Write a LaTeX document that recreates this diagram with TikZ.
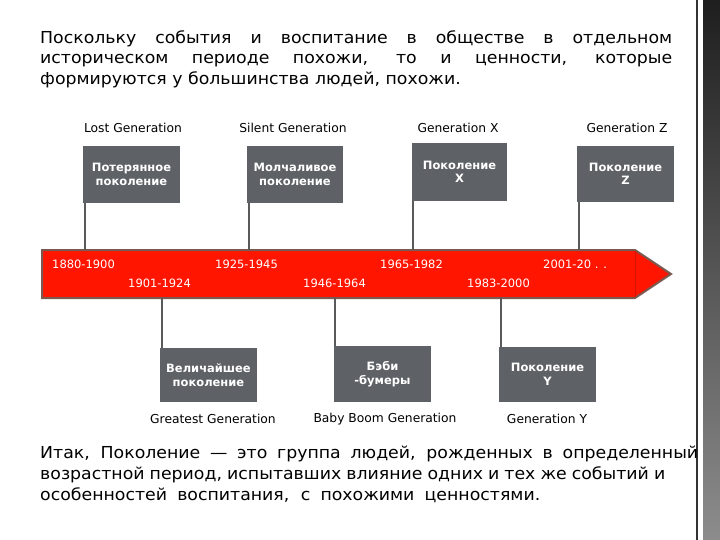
\documentclass[tikz,border=0pt]{standalone}
\usepackage{fontspec}
\setmainfont{DejaVu Sans}
\newfontfamily\widefont{DejaVu Sans}[FakeStretch=1.05]
\definecolor{boxgray}{HTML}{5E6266}
\definecolor{linegray}{HTML}{5A5A5A}
\definecolor{barred}{HTML}{FF1500}
\definecolor{barborder}{HTML}{7A5A50}
\tikzset{
  genbox/.style={fill=boxgray, text=white, font=\fontsize{11.5}{13.5}\selectfont\bfseries, align=center, inner sep=0pt},
  genlabel/.style={font=\fontsize{12.3}{14}\selectfont, text=black, inner sep=0pt},
  yearlabel/.style={font=\fontsize{11.5}{13}\selectfont, text=white, inner sep=0pt, anchor=base west},
  conn/.style={draw=linegray, line width=2pt},
  bodytext/.style={font=\widefont\fontsize{16.5}{20}\selectfont, anchor=base west, inner sep=0pt}
}
\begin{document}
\begin{tikzpicture}[x=1pt,y=-1pt]
\useasboundingbox (0,0) rectangle (720,540);
\fill[white] (0,0) rectangle (720,540);
% right strip
\draw[line width=2pt, draw=black!80] (697,0) -- (697,540);
\shade[top color=black!88, bottom color=black!45] (703,0) rectangle (720,540);

% top paragraph
\node[bodytext] (p1) at (40,44) {\makebox[632pt][s]{Поскольку события и воспитание в обществе в отдельном}};
\node[bodytext] (p2) at (40,64) {\makebox[632pt][s]{историческом периоде похожи, то и ценности, которые}};
\node[bodytext] (p3) at (40,84.5) {формируются у большинства людей, похожи.};

% timeline bar
\draw[fill=barred, draw=barborder, line width=2pt] (42,250) -- (635,250) -- (671,274) -- (635,298) -- (42,298) -- cycle;
\draw[draw=barred!85!black, line width=0.5pt] (635,251) -- (635,297);

% top boxes
\node[genbox, minimum width=97pt, minimum height=57pt] (b1) at (131.5,174.5) {Потерянное\\поколение};
\node[genbox, minimum width=96pt, minimum height=57pt] (b2) at (295,174.5) {Молчаливое\\поколение};
\node[genbox, minimum width=95pt, minimum height=58pt] (b3) at (459.5,172) {Поколение\\X};
\node[genbox, minimum width=97pt, minimum height=56pt] (b4) at (625.5,174) {Поколение\\Z};

\node[genlabel] (l1) at (133,128) {Lost Generation};
\node[genlabel] (l2) at (293,128) {Silent Generation};
\node[genlabel] (l3) at (458,128) {Generation X};
\node[genlabel] (l4) at (627,128) {Generation Z};

% bottom boxes
\node[genbox, minimum width=97pt, minimum height=54pt] (c1) at (208.5,375) {Величайшее\\поколение};
\node[genbox, minimum width=97pt, minimum height=56pt] (c2) at (382.5,374) {Бэби\\-бумеры};
\node[genbox, minimum width=97pt, minimum height=55pt] (c3) at (547.5,374.5) {Поколение\\Y};

\node[genlabel] (m1) at (213,419) {Greatest Generation};
\node[genlabel] (m2) at (385,419) {Baby Boom Generation};
\node[genlabel] (m3) at (547,419) {Generation Y};

% connector anchors on the bar
\coordinate (t1) at (85,250);
\coordinate (t2) at (248.5,250);
\coordinate (t3) at (413,250);
\coordinate (t4) at (578.5,250);
\coordinate (u1) at (161.5,298);
\coordinate (u2) at (335,298);
\coordinate (u3) at (500.5,298);
\draw[conn] (b1.south west -| t1) -- (t1);
\draw[conn] (b2.south west -| t2) -- (t2);
\draw[conn] (b3.south west -| t3) -- (t3);
\draw[conn] (b4.south west -| t4) -- (t4);
\draw[conn] (u1) -- (c1.north west -| u1);
\draw[conn] (u2) -- (c2.north west -| u2);
\draw[conn] (u3) -- (c3.north west -| u3);

% years
\node[yearlabel] (y1) at (52,268) {1880-1900};
\node[yearlabel] (y2) at (215,268) {1925-1945};
\node[yearlabel] (y3) at (380,268) {1965-1982};
\node[yearlabel] (y4) at (543,268) {2001-20 . .};
\node[yearlabel] (y5) at (128,287) {1901-1924};
\node[yearlabel] (y6) at (303,287) {1946-1964};
\node[yearlabel] (y7) at (467,287) {1983-2000};

% bottom paragraph
\node[bodytext] (q1) at (40,458) {\makebox[658pt][s]{Итак, Поколение — это группа людей, рожденных в определенный}};
\node[bodytext] (q2) at (40,479) {\makebox[625pt][s]{возрастной период, испытавших влияние одних и тех же событий и}};
\node[bodytext] (q3) at (40,500) {\makebox[500pt][s]{особенностей воспитания, с похожими ценностями.}};
\end{tikzpicture}
\end{document}
